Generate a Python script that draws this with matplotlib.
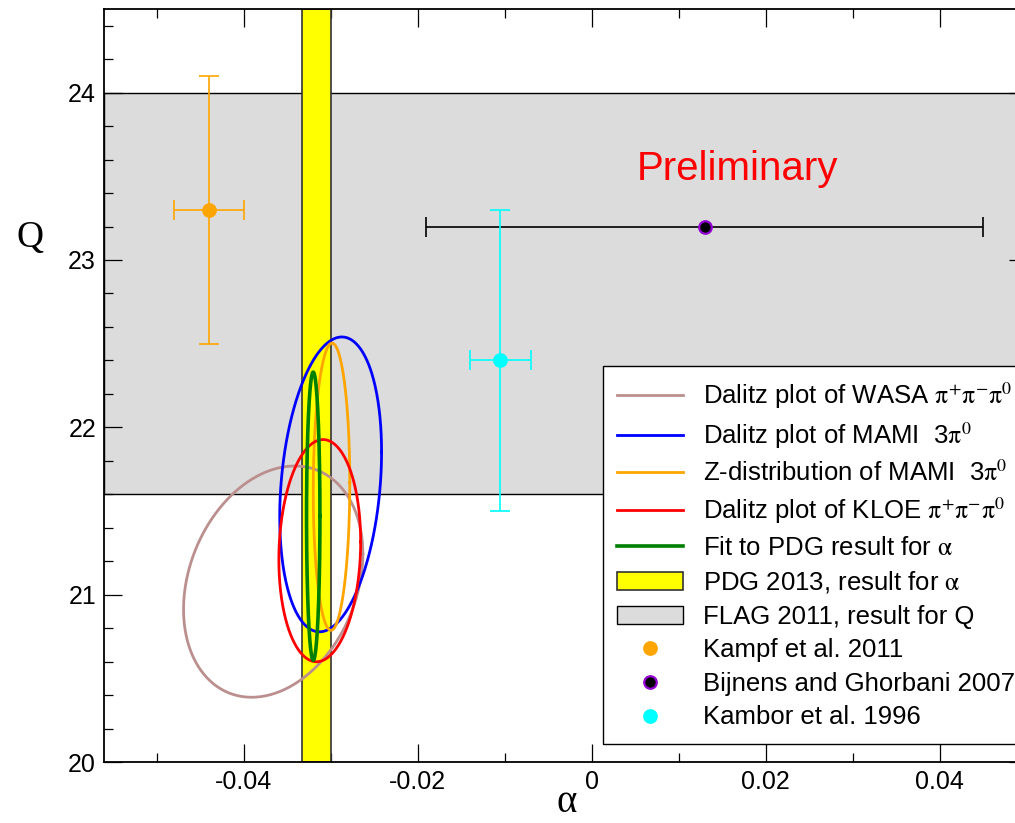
import numpy as np
import matplotlib
matplotlib.use("Agg")
import matplotlib.pyplot as plt
from matplotlib.ticker import MultipleLocator, FormatStrFormatter

plt.rcParams["font.family"] = ["Liberation Sans", "DejaVu Sans"]
plt.rcParams["mathtext.fontset"] = "stix"
plt.rcParams["axes.unicode_minus"] = False

# --- constraint ellipses in the (alpha, Q) plane -------------------------
ellipse_labels = [
    r"Dalitz plot of WASA $\mathrm{\pi^{+}\pi^{-}\pi^{0}}$",
    r"Dalitz plot of MAMI  3$\mathrm{\pi^{0}}$",
    r"Z-distribution of MAMI  3$\mathrm{\pi^{0}}$",
    r"Dalitz plot of KLOE $\mathrm{\pi^{+}\pi^{-}\pi^{0}}$",
    r"Fit to PDG result for $\mathrm{\alpha}$",
]
ellipse_colors = ["#bc8f8f", "#0000ff", "#ffa500", "#ff0000", "#008000"]
ellipse_alpha_center = [-0.0366, -0.0300, -0.0299, -0.03125, -0.0320]
ellipse_alpha_halfwidth = [0.0103, 0.00585, 0.0021, 0.0047, 0.00077]
ellipse_Q_center = [21.078, 21.659, 21.645, 21.263, 21.469]
ellipse_Q_halfwidth = [0.691, 0.881, 0.858, 0.664, 0.861]
ellipse_corr = [0.24, 0.22, 0.03, 0.08, 0.0]
ellipse_widths = [2.0, 2.0, 2.0, 2.0, 2.6]

# --- reference bands ------------------------------------------------------
pdg_alpha = [-0.0333, -0.0300]   # PDG 2013 alpha range
flag_Q = [21.6, 24.0]            # FLAG 2011 Q range

# --- literature points ------------------------------------------------------
point_labels = ["Kampf et al. 2011", "Bijnens and Ghorbani 2007", "Kambor et al. 1996"]
point_alpha = [-0.044, 0.013, -0.0105]
point_alpha_err = [0.004, 0.032, 0.0035]
point_Q = [23.3, 23.2, 22.4]
point_Q_err = [0.8, 0.0, 0.9]
point_face = ["#ffa500", "#000000", "#00ffff"]
point_edge = ["#ffa500", "#9400d3", "#00ffff"]
point_bar = ["#ffa500", "#000000", "#00ffff"]

fig = plt.figure(figsize=(10.15, 8.23), dpi=100)
ax = fig.add_axes([0.1028, 0.0741, 0.909, 0.915])

gray = ax.axhspan(flag_Q[0], flag_Q[1], facecolor="#dcdcdc", edgecolor="black",
                  lw=1.0, zorder=1)
yellow = ax.axvspan(pdg_alpha[0], pdg_alpha[1], facecolor="#ffff00",
                    edgecolor="#333333", lw=1.2, zorder=2)

t = np.linspace(0.0, 2.0 * np.pi, 500)
ellipse_lines = []
for ac, aw, qc, qw, rho, col, lw in zip(ellipse_alpha_center, ellipse_alpha_halfwidth,
                                         ellipse_Q_center, ellipse_Q_halfwidth,
                                         ellipse_corr, ellipse_colors, ellipse_widths):
    phase = np.arccos(rho)
    a = ac + aw * np.cos(t)
    q = qc + qw * np.cos(t - phase)
    line, = ax.plot(a, q, color=col, lw=lw, zorder=4)
    ellipse_lines.append(line)

point_handles = []
for x, xe, y, ye, fc, ec, bc in zip(point_alpha, point_alpha_err, point_Q, point_Q_err,
                                    point_face, point_edge, point_bar):
    ax.errorbar(x, y, xerr=xe, yerr=ye if ye > 0 else None, fmt="none", ecolor=bc,
                elinewidth=1.2, capsize=7, capthick=1.2, zorder=5)
    h, = ax.plot(x, y, "o", ms=9, mfc=fc, mec=ec, mew=1.6, zorder=6)
    point_handles.append(h)

ax.text(0.0167, 23.475, "Preliminary", color="red", fontsize=29,
        ha="center", va="baseline", zorder=7)

ax.set_xlim(-0.056, 0.05)
ax.set_ylim(20.0, 24.5)
ax.xaxis.set_major_locator(MultipleLocator(0.02))
ax.xaxis.set_minor_locator(MultipleLocator(0.01))
ax.yaxis.set_major_locator(MultipleLocator(1))
ax.yaxis.set_minor_locator(MultipleLocator(0.2))
ax.xaxis.set_major_formatter(FormatStrFormatter("%g"))
ax.yaxis.set_major_formatter(FormatStrFormatter("%g"))
ax.tick_params(which="both", direction="in", top=True, right=True,
               labelsize=18, pad=6, colors="black")
ax.tick_params(which="major", length=13, width=0.9)
ax.tick_params(which="minor", length=6.5, width=0.9)
for sp in ax.spines.values():
    sp.set_linewidth(1.3)
    sp.set_zorder(8)

fig.text(30 / 1015, 1 - 238 / 823, "Q", family="Liberation Serif", fontsize=27,
         ha="center", va="center")
fig.text(567 / 1015, 1 - 803 / 823, "α", family="Liberation Serif", fontsize=28,
         ha="center", va="center")

handles = ellipse_lines + [yellow, gray] + point_handles
labels = ellipse_labels + [r"PDG 2013, result for $\mathrm{\alpha}$",
                           "FLAG 2011, result for Q"] + point_labels
leg = ax.legend(handles, labels, loc="upper left",
                bbox_to_anchor=(603 / 1015, 1 - 366 / 823),
                bbox_transform=fig.transFigure, fontsize=18.5, frameon=True,
                fancybox=False, edgecolor="black", framealpha=1,
                handlelength=2.55, handletextpad=0.78, labelspacing=0.37,
                borderpad=0.55, borderaxespad=0, numpoints=1)
leg.get_frame().set_linewidth(1.0)
leg.set_zorder(10)

fig.savefig("out.png", dpi=100)
